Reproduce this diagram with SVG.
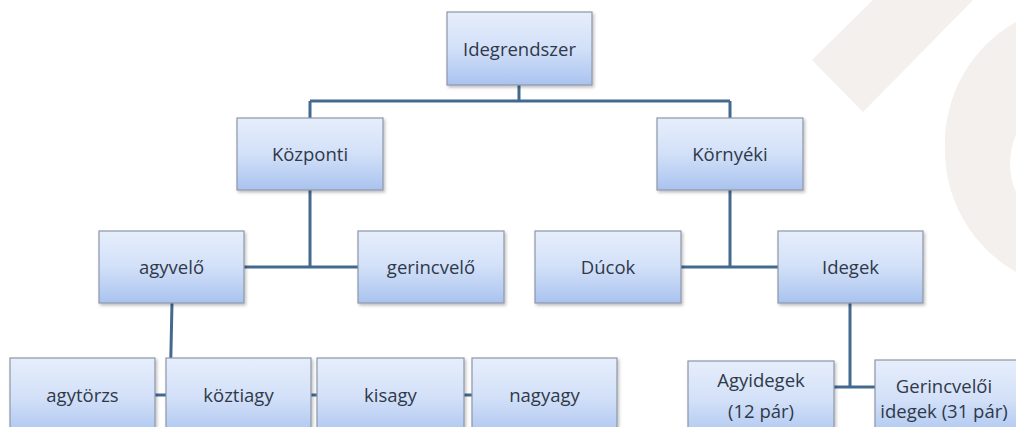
<svg xmlns="http://www.w3.org/2000/svg" width="1016" height="427" viewBox="0 0 1016 427">
<defs>
<linearGradient id="g" x1="0" y1="0" x2="0" y2="1">
<stop offset="0" stop-color="#e6eefb"/>
<stop offset="0.5" stop-color="#d2e0f8"/>
<stop offset="1" stop-color="#a9c3ef"/>
</linearGradient>
<filter id="sh" x="-10%" y="-10%" width="130%" height="130%">
<feDropShadow dx="1.5" dy="2" stdDeviation="1.5" flood-color="#000" flood-opacity="0.25"/>
</filter>
</defs>
<style>
.n{fill:url(#g);stroke:#8d97a8;stroke-width:1.2;filter:url(#sh)}
.t{font-family:"Open Sans","Liberation Sans",sans-serif;font-size:18.5px;fill:#2f3949;text-anchor:middle}
.c{stroke:#44698f;stroke-width:3;fill:none}
.w{fill:#f3f0ed}
</style>
<rect width="1016" height="427" fill="#fff"/>
<g id="watermark">
<polygon class="w" points="873,0 973,0 863,112 812,60"/>
<path class="w" fill-rule="evenodd" d="M1016,22 A140,140 0 0 0 945,150 A140,140 0 0 0 1016,272 Z M1016,135 A71,71 0 0 0 1016,192 Z"/>
</g>
<g id="connectors">
<path class="c" d="M519,85 V101 M310,101 H730 M310,101 V118 M730,101 V118"/>
<path class="c" d="M310,190 V267 M244,267 H358"/>
<path class="c" d="M730,190 V267 M681,267 H778"/>
<path class="c" d="M172,303 L170,395 M10,395 H617"/>
<path class="c" d="M850,303 V387 M834,387 H875"/>
</g>
<g id="n-idegrendszer"><rect class="n" x="447" y="12" width="145" height="73"/><text class="t" x="519.5" y="56">Idegrendszer</text></g>
<g id="n-kozponti"><rect class="n" x="237" y="118" width="146" height="72"/><text class="t" x="310" y="161">Központi</text></g>
<g id="n-kornyeki"><rect class="n" x="657" y="118" width="146" height="72"/><text class="t" x="730" y="161">Környéki</text></g>
<g id="n-agyvelo"><rect class="n" x="99" y="231" width="145" height="72"/><text class="t" x="171.5" y="274">agyvelő</text></g>
<g id="n-gerincvelo"><rect class="n" x="358" y="231" width="146" height="72"/><text class="t" x="431" y="274">gerincvelő</text></g>
<g id="n-ducok"><rect class="n" x="535" y="231" width="146" height="72"/><text class="t" x="608" y="274">Dúcok</text></g>
<g id="n-idegek"><rect class="n" x="778" y="231" width="145" height="72"/><text class="t" x="850.5" y="274">Idegek</text></g>
<g id="n-agytorzs"><rect class="n" x="10" y="358" width="145" height="80"/><text class="t" x="82.5" y="402">agytörzs</text></g>
<g id="n-koztiagy"><rect class="n" x="166" y="358" width="145" height="80"/><text class="t" x="238.5" y="402">köztiagy</text></g>
<g id="n-kisagy"><rect class="n" x="317" y="358" width="147" height="80"/><text class="t" x="390.5" y="402">kisagy</text></g>
<g id="n-nagyagy"><rect class="n" x="472" y="358" width="145" height="80"/><text class="t" x="544.5" y="402">nagyagy</text></g>
<g id="n-agyidegek"><rect class="n" x="688" y="361" width="146" height="80"/><text class="t" x="761" y="387">Agyidegek</text><text class="t" x="761" y="418">(12 pár)</text></g>
<g id="n-gerincvelo-idegek"><rect class="n" x="875" y="360" width="146" height="80"/><text class="t" x="944" y="393">Gerincvelői</text><text class="t" x="944" y="418">idegek (31 pár)</text></g>
</svg>
